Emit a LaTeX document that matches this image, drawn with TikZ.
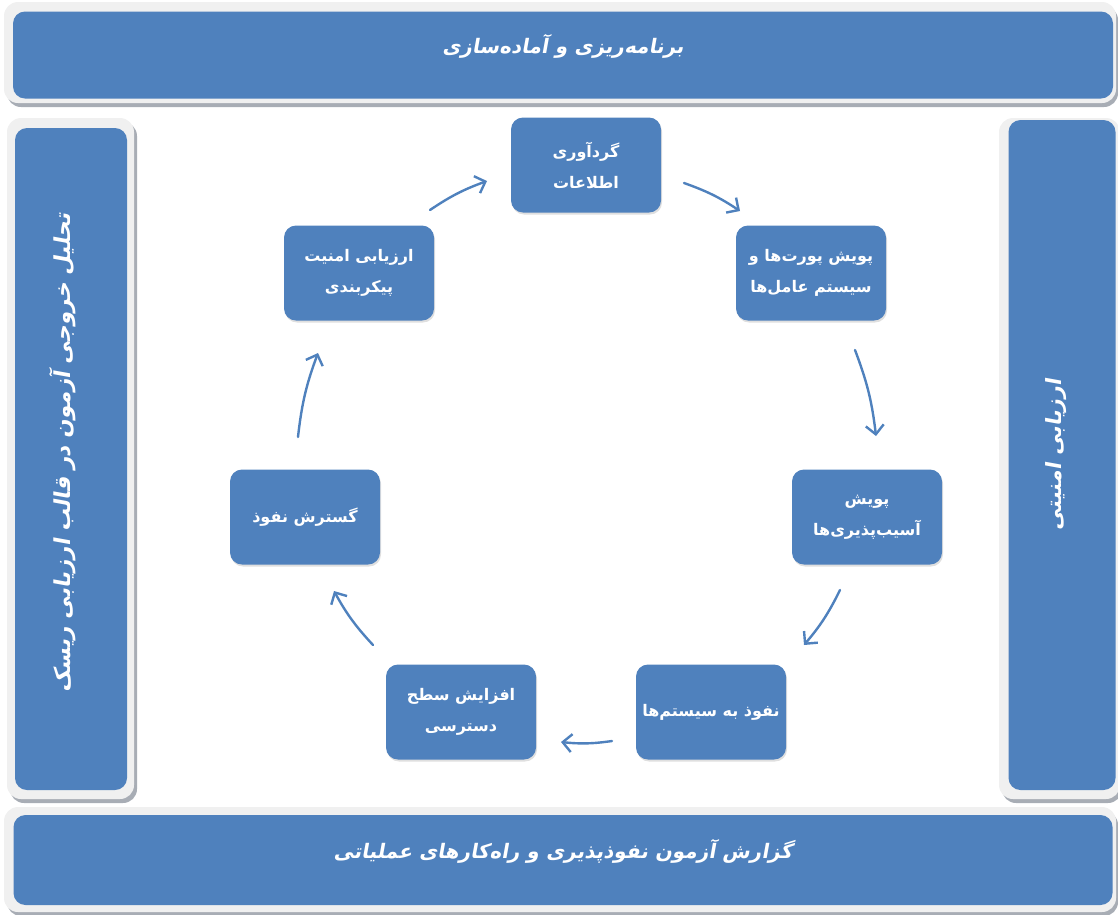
\documentclass[tikz,border=0pt]{standalone}
\usepackage{fontspec}
\usetikzlibrary{arrows.meta,shadows}
\TeXXeTstate=1
\newfontfamily\arfont[Script=Arabic]{DejaVu Sans Bold}
\newfontfamily\frfont[Script=Arabic,FakeSlant=0.18]{DejaVu Sans Bold}
\definecolor{myblue}{HTML}{4F81BD}
\definecolor{framegray}{HTML}{F0F0F0}
\definecolor{shadowgray}{HTML}{A8ADB5}
\tikzset{
  stepbox/.style={fill=myblue, rounded corners=12pt, minimum width=150pt, minimum height=95pt,
    text=white, align=center, inner sep=2pt,
    font=\arfont\fontsize{16}{31}\selectfont,
    drop shadow={opacity=0.25, shadow xshift=1pt, shadow yshift=-2pt}},
  bandbox/.style={fill=myblue, rounded corners=12pt, text=white, inner sep=0pt},
  bandtext/.style={text=white, font=\frfont\fontsize{20}{24}\selectfont},
  outerframe/.style={fill=framegray, rounded corners=14pt},
  outershadow/.style={fill=shadowgray, rounded corners=14pt},
  cyc/.style={draw=myblue, line width=2.4pt, line cap=round,
    -{Straight Barb[length=9pt,width=18pt,line width=2.4pt]}, bend left=7}
}
\begin{document}
\begin{tikzpicture}[x=1pt,y=-1pt]
\useasboundingbox (0,0) rectangle (1118,914);
% --- frames
\fill[outershadow] (7,6) rectangle (1118,107);
\fill[outerframe] (4,2) rectangle (1116,103);
\fill[outershadow] (10,122) rectangle (137,803);
\fill[outerframe] (7,118) rectangle (134,799);
\fill[outershadow] (1002,122) rectangle (1122,803);
\fill[outerframe] (999,118) rectangle (1120,799);
\fill[outershadow] (7,811) rectangle (1118,916);
\fill[outerframe] (4,807) rectangle (1116,912);
% --- bands
\node[bandbox, minimum width=1100pt, minimum height=87pt] (top) at (563,55) {};
\node[bandtext] at ([yshift=9pt]top.center) {\beginR برنامه‌ریزی و آماده‌سازی\endR};
\node[bandbox, minimum width=1099pt, minimum height=90pt] (bottom) at (563,860) {};
\node[bandtext] at ([yshift=9pt]bottom.center) {\beginR گزارش آزمون نفوذپذیری و راه‌کارهای عملیاتی\endR};
\node[bandbox, minimum width=112pt, minimum height=662pt] (left) at (71,459) {};
\node[bandtext, rotate=90, font=\frfont\fontsize{22}{26}\selectfont] at ([xshift=-8pt,yshift=6pt]left.center)
  {\beginR تحلیل خروجی آزمون در قالب ارزیابی ریسک\endR};
\node[bandbox, minimum width=107pt, minimum height=670pt] (right) at (1062,455) {};
\node[bandtext, rotate=90, font=\frfont\fontsize{21}{26}\selectfont] at ([xshift=-6pt]right.center)
  {\beginR ارزیابی امنیتی\endR};
% --- steps
\node[stepbox] (s1) at (586,165) {\beginR گردآوری\endR\\\beginR اطلاعات\endR};
\node[stepbox] (s2) at (811,273) {\beginR پویش پورت‌ها و\endR\\\beginR سیستم عامل‌ها\endR};
\node[stepbox] (s3) at (867,517) {\beginR پویش\endR\\\beginR آسیب‌پذیری‌ها\endR};
\node[stepbox] (s4) at (711,712) {\beginR نفوذ به سیستم‌ها\endR};
\node[stepbox] (s5) at (461,712) {\beginR افزایش سطح\endR\\\beginR دسترسی\endR};
\node[stepbox] (s6) at (305,517) {\beginR گسترش نفوذ\endR};
\node[stepbox] (s7) at (359,273) {\beginR ارزیابی امنیت\endR\\\beginR پیکربندی\endR};
% --- arrow end points
\coordinate (a1) at (430,210); \coordinate (a2) at (487,181);
\coordinate (b1) at (684,183); \coordinate (b2) at (740,211);
\coordinate (c1) at (855,350); \coordinate (c2) at (876,436);
\coordinate (d1) at (840,590); \coordinate (d2) at (804,645);
\coordinate (e1) at (612,741); \coordinate (e2) at (561,742);
\coordinate (f1) at (373,645); \coordinate (f2) at (334,591);
\coordinate (g1) at (298,437); \coordinate (g2) at (318,353);
\draw[cyc] (a1) to (a2);
\draw[cyc] (b1) to (b2);
\draw[cyc] (c1) to (c2);
\draw[cyc] (d1) to (d2);
\draw[cyc] (e1) to (e2);
\draw[cyc] (f1) to (f2);
\draw[cyc] (g1) to (g2);
\end{tikzpicture}
\end{document}
